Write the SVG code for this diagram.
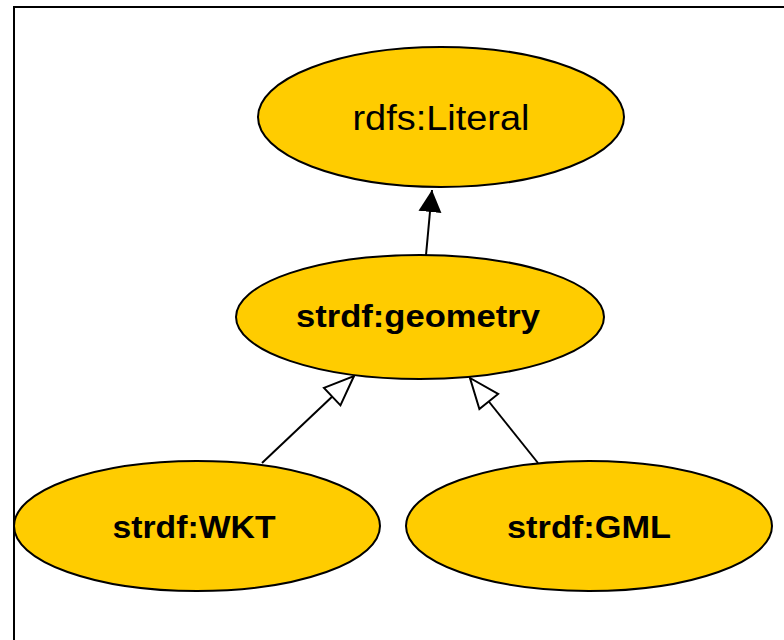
<svg xmlns="http://www.w3.org/2000/svg" width="784" height="640" viewBox="0 0 784 640">
  <style>
    .node ellipse { fill: #ffcc00; stroke: #000; stroke-width: 2; }
    .lbl { font-family: "Liberation Sans", Arial, sans-serif; fill: #000; text-anchor: middle; }
    .b { font-weight: bold; font-size: 31px; }
    .edge { stroke: #000; stroke-width: 2; fill: none; }
  </style>
  <defs>
    <marker id="filled" viewBox="0 0 22 24" refX="22" refY="12" markerWidth="22" markerHeight="24" markerUnits="userSpaceOnUse" orient="auto">
      <path d="M0,0.5 L22,12 L0,23.5 Z" fill="#000"/>
    </marker>
    <marker id="hollow" viewBox="-2 -2 34 28" refX="30" refY="12" markerWidth="34" markerHeight="28" markerUnits="userSpaceOnUse" orient="auto">
      <path d="M0,0 L30,12 L0,24 Z" fill="#fff" stroke="#000" stroke-width="2" stroke-linejoin="miter"/>
    </marker>
  </defs>
  <rect x="14" y="7" width="780" height="650" fill="#fff" stroke="#000" stroke-width="2"/>
  <g id="connectors">
    <line class="edge" x1="426" y1="255" x2="432" y2="190" marker-end="url(#filled)"/>
    <line class="edge" x1="262" y1="463" x2="354" y2="376" marker-end="url(#hollow)"/>
    <line class="edge" x1="538" y1="463" x2="470" y2="378" marker-end="url(#hollow)"/>
  </g>
  <g id="rdfs-literal" class="node">
    <ellipse cx="441" cy="117" rx="183" ry="70"/>
    <text class="lbl" x="441" y="130" font-size="35" textLength="177" lengthAdjust="spacingAndGlyphs">rdfs:Literal</text>
  </g>
  <g id="strdf-geometry" class="node">
    <ellipse cx="420" cy="317" rx="184" ry="62"/>
    <text class="lbl b" x="418" y="327" textLength="244" lengthAdjust="spacingAndGlyphs">strdf:geometry</text>
  </g>
  <g id="strdf-wkt" class="node">
    <ellipse cx="197" cy="526" rx="183" ry="65"/>
    <text class="lbl b" x="194" y="538" textLength="163" lengthAdjust="spacingAndGlyphs">strdf:WKT</text>
  </g>
  <g id="strdf-gml" class="node">
    <ellipse cx="589" cy="526" rx="183" ry="65"/>
    <text class="lbl b" x="589" y="538" textLength="164" lengthAdjust="spacingAndGlyphs">strdf:GML</text>
  </g>
</svg>
